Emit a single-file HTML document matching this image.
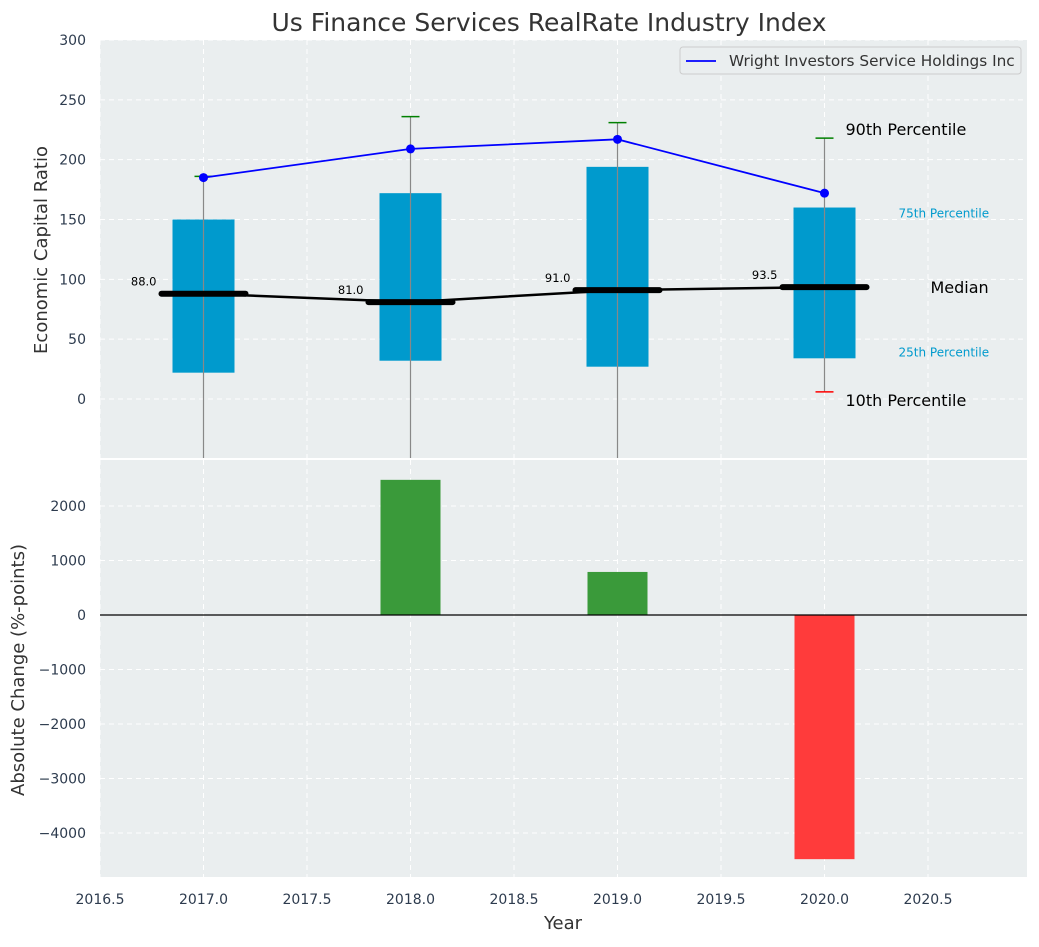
<!DOCTYPE html>
<html><head><meta charset="utf-8"><style>
body{margin:0;background:#fff;font-family:"Liberation Sans","DejaVu Sans",sans-serif}
svg text{font-family:"DejaVu Sans","Liberation Sans",sans-serif}
</style></head><body>
<svg id="c" width="1039" height="942" xmlns="http://www.w3.org/2000/svg"></svg>
<script>
const years=[2017,2018,2019,2020];
const q1=[22,32,27,34];
const q3=[150,172,194,160];
const p10=[-80,-80,-80,6];
const p90=[186,236,231,218];
const medians=[88,81,91,93.5];
const company=[185,209,217,172];
const changes=[0,2480,790,-4480];
const topTicks=[0,50,100,150,200,250,300];
const botTicks=[-4000,-3000,-2000,-1000,0,1000,2000];
const xTicks=[2016.5,2017,2017.5,2018,2018.5,2019,2019.5,2020,2020.5];

const NS="http://www.w3.org/2000/svg";
const svg=document.getElementById('c');
function el(t,a,txt){const e=document.createElementNS(NS,t);for(const k in a)e.setAttribute(k,a[k]);if(txt!==undefined)e.textContent=txt;svg.appendChild(e);return e;}
const L=100,R=1027;
const x=v=>L+(v-2016.5)*207;
const T0=40,T1=458,yT=v=>399-v*(359/300);
const B0=460,B1=877,yB=v=>615-v*0.0545;

let e=el('rect',{x:L,y:T0,width:R-L,height:T1-T0,fill:'#eaeeef'});

e=el('rect',{x:L,y:B0,width:R-L,height:B1-B0,fill:'#eaeeef'});


xTicks.forEach(t=>{
 el('line',{x1:x(t),x2:x(t),y1:T0,y2:T1,stroke:'#fff','stroke-dasharray':'5,4','stroke-width':1});
 el('line',{x1:x(t),x2:x(t),y1:B0,y2:B1,stroke:'#fff','stroke-dasharray':'5,4','stroke-width':1});
 e=el('text',{x:x(t),y:904,'font-size':14,fill:'#2d3b4e','text-anchor':'middle'},t.toFixed(1));
 
});
topTicks.forEach(t=>{
 el('line',{x1:L,x2:R,y1:yT(t),y2:yT(t),stroke:'#fff','stroke-dasharray':'5,4'});
 e=el('text',{x:86,y:yT(t)+5,'font-size':14,fill:'#2d3b4e','text-anchor':'end'},t);
 
});
botTicks.forEach(t=>{
 el('line',{x1:L,x2:R,y1:yB(t),y2:yB(t),stroke:'#fff','stroke-dasharray':'5,4'});
 e=el('text',{x:86,y:yB(t)+5,'font-size':14,fill:'#2d3b4e','text-anchor':'end'},t<0?'−'+(-t):t);
 
});

years.forEach((yr,i)=>{
 const cx=x(yr);
 e=el('rect',{x:cx-31,y:yT(q3[i]),width:62,height:yT(q1[i])-yT(q3[i]),fill:'#009acd'});
 
 el('line',{x1:cx,x2:cx,y1:yT(p90[i]),y2:Math.min(yT(p10[i]),T1),stroke:'#888','stroke-width':1.2});
 e=el('line',{x1:cx-9,x2:cx+9,y1:yT(p90[i]),y2:yT(p90[i]),stroke:'green','stroke-width':1.5});
 
 if(yT(p10[i])<T1){e=el('line',{x1:cx-9,x2:cx+9,y1:yT(p10[i]),y2:yT(p10[i]),stroke:'red','stroke-width':1.5});
 }
 e=el('line',{x1:cx-42,x2:cx+42,y1:yT(medians[i]),y2:yT(medians[i]),stroke:'#000','stroke-width':6,'stroke-linecap':'round'});
 
 e=el('text',{x:cx-47,y:yT(medians[i])-8,'font-size':11.5,fill:'#000','text-anchor':'end'},medians[i].toFixed(1));
 
});
e=el('polyline',{points:years.map((y,i)=>x(y)+','+yT(medians[i])).join(' '),fill:'none',stroke:'#000','stroke-width':2.5});

e=el('polyline',{points:years.map((y,i)=>x(y)+','+yT(company[i])).join(' '),fill:'none',stroke:'blue','stroke-width':1.8});

years.forEach((y,i)=>{e=el('circle',{cx:x(y),cy:yT(company[i]),r:4.5,fill:'blue'});
 });

const li=years.length-1,lx=x(years[li]);
[['90th Percentile',lx+21,yT(p90[li])-3,16,'#000'],['75th Percentile',lx+74,yT(q3[li])+10,12,'#009acd'],
 ['Median',lx+106,yT(medians[li])+6,16,'#000'],['25th Percentile',lx+74,yT(q1[li])-2,12,'#009acd'],
 ['10th Percentile',lx+21,yT(p10[li])+14,16,'#000']].forEach(a=>{
 e=el('text',{x:a[1],y:a[2],'font-size':a[3],fill:a[4]},a[0]);
 });

years.forEach((yr,i)=>{const v=changes[i];if(!v)return;
 e=el('rect',{x:x(yr)-30,y:Math.min(yB(v),yB(0)),width:60,height:Math.abs(yB(v)-yB(0)),fill:v>0?'#3a9a3a':'#ff3b3b'});
 });
el('line',{x1:L,x2:R,y1:yB(0),y2:yB(0),stroke:'#000','stroke-width':1.2});

e=el('rect',{x:680,y:47,width:341,height:27,fill:'#eaeeef',stroke:'#ccc',rx:3});

el('line',{x1:686,x2:716,y1:61,y2:61,stroke:'blue','stroke-width':1.8});
e=el('text',{x:729,y:66,'font-size':15.3,fill:'#333'},'Wright Investors Service Holdings Inc');


e=el('text',{x:549,y:31,'font-size':25,fill:'#333','text-anchor':'middle'},'Us Finance Services RealRate Industry Index');

e=el('text',{x:0,y:0,'font-size':18,fill:'#333','text-anchor':'middle',transform:'translate(47,250) rotate(-90)'},'Economic Capital Ratio');

e=el('text',{x:0,y:0,'font-size':18,fill:'#333','text-anchor':'middle',transform:'translate(24,670) rotate(-90)'},'Absolute Change (%-points)');

e=el('text',{x:563,y:929,'font-size':18,fill:'#333','text-anchor':'middle'},'Year');

</script>
</body></html>
